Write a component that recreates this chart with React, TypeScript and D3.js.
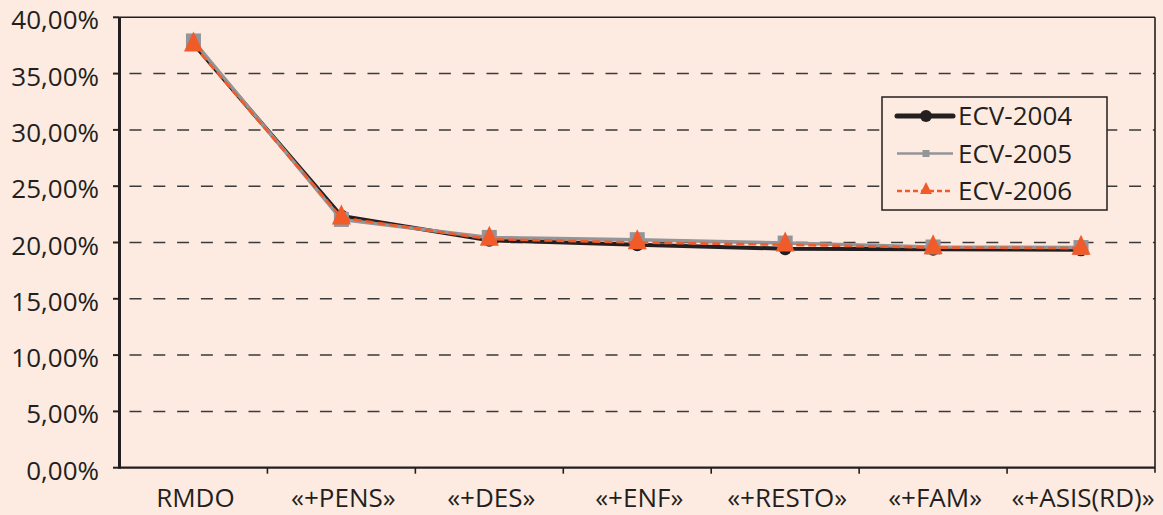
import React from "react";
import * as d3 from "d3";

const categories = ["RMDO", "«+PENS»", "«+DES»", "«+ENF»", "«+RESTO»", "«+FAM»", "«+ASIS(RD)»"];
const ecv2004 = [37.65, 22.35, 20.2, 19.8, 19.45, 19.4, 19.35];
const ecv2005 = [37.9, 22.05, 20.45, 20.25, 19.95, 19.6, 19.55];
const ecv2006 = [37.55, 22.2, 20.3, 20.0, 19.8, 19.55, 19.5];
const yTicks = [0, 5, 10, 15, 20, 25, 30, 35, 40];
const seriesNames = ["ECV-2004", "ECV-2005", "ECV-2006"];

const W = 1163;
const H = 515;
const left = 119.5;
const right = 1155;
const top = 17.3;
const bottom = 467.7;
const BG = "#fdebe1";
const FONT = "'Open Sans', sans-serif";
const BLACK = "#231f20";
const GREY = "#939598";
const ORANGE = "#f15a29";

const fmt = (v: number) => v.toFixed(2).replace(".", ",") + "%";

function triPath(cx: number, cy: number, w: number, h: number) {
  // centroid-centred triangle
  return `M${cx},${cy - (2 * h) / 3}L${cx + w / 2},${cy + h / 3}L${cx - w / 2},${cy + h / 3}Z`;
}

export default function App() {
  const x = d3.scaleBand<string>().domain(categories).range([left, right]);
  const y = d3.scaleLinear().domain([0, 40]).range([bottom, top]);
  const cx = (c: string) => (x(c) as number) + x.bandwidth() / 2;

  const line = d3
    .line<number>()
    .x((_, i) => cx(categories[i]))
    .y((d) => y(d));

  const legendX = 882;
  const legendY = 97;
  const rowY = [116, 153.5, 191];

  return (
    <svg
      width={W}
      height={H}
      style={{ position: "absolute", left: 0, top: 0, background: BG }}
      fontFamily={FONT}
    >
      <rect x={0} y={0} width={W} height={H} fill={BG} />
      {/* gridlines */}
      {yTicks
        .filter((t) => t > 0 && t < 40)
        .map((t) => (
          <line
            key={t}
            x1={left}
            x2={right}
            y1={y(t)}
            y2={y(t)}
            stroke="#3a3a3a"
            strokeWidth={1.5}
            strokeDasharray="12 11.8"
            strokeDashoffset={-10}
          />
        ))}
      {/* top & right border */}
      <line x1={left} x2={right} y1={top} y2={top} stroke={BLACK} strokeWidth={1.6} />
      <line x1={right} x2={right} y1={top} y2={bottom + 5} stroke={BLACK} strokeWidth={1.6} />
      {/* y axis */}
      <line x1={left} x2={left} y1={top} y2={bottom + 1} stroke={BLACK} strokeWidth={3} />
      {yTicks.map((t) => (
        <g key={t}>
          <line x1={113} x2={left} y1={y(t)} y2={y(t)} stroke={BLACK} strokeWidth={2} />
          <text
            x={99}
            y={y(t) + 2}
            textAnchor="end"
            dominantBaseline="central"
            fontSize={26}
            fill={BLACK}
          >
            {fmt(t)}
          </text>
        </g>
      ))}
      {/* x axis */}
      <line x1={left} x2={right} y1={bottom} y2={bottom} stroke={BLACK} strokeWidth={2.2} />
      {categories.map((c, i) => (
        <g key={c}>
          {i > 0 && (
            <line
              x1={x(c) as number}
              x2={x(c) as number}
              y1={bottom}
              y2={bottom + 6}
              stroke={BLACK}
              strokeWidth={1.6}
            />
          )}
          <text x={cx(c) + 2} y={507} textAnchor="middle" fontSize={26} fill={BLACK}>
            {c}
          </text>
        </g>
      ))}
      {/* series 2004 */}
      <path d={line(ecv2004) || ""} fill="none" stroke={BLACK} strokeWidth={4} strokeLinejoin="round" />
      {ecv2004.map((v, i) => (
        <circle key={"a" + i} cx={cx(categories[i])} cy={y(v)} r={6.5} fill={BLACK} />
      ))}
      {/* series 2005 */}
      <path d={line(ecv2005) || ""} fill="none" stroke={GREY} strokeWidth={3.5} strokeLinejoin="round" />
      {ecv2005.map((v, i) => (
        <rect
          key={"b" + i}
          x={cx(categories[i]) - 7.5}
          y={y(v) - 7.5}
          width={15}
          height={15}
          fill={GREY}
        />
      ))}
      {/* series 2006 */}
      <path
        d={line(ecv2006) || ""}
        fill="none"
        stroke={ORANGE}
        strokeWidth={2.6}
        strokeDasharray="8 4"
      />
      {ecv2006.map((v, i) => (
        <path key={"c" + i} d={triPath(cx(categories[i]), y(v), 19, 20)} fill={ORANGE} />
      ))}
      {/* legend */}
      <rect
        x={legendX}
        y={legendY}
        width={225}
        height={113}
        fill={BG}
        stroke={BLACK}
        strokeWidth={1.5}
      />
      <line x1={897} x2={953} y1={rowY[0]} y2={rowY[0]} stroke={BLACK} strokeWidth={5} strokeLinecap="round" />
      <circle cx={926} cy={rowY[0]} r={6} fill={BLACK} />
      <line x1={897} x2={953} y1={rowY[1]} y2={rowY[1]} stroke={GREY} strokeWidth={2.5} />
      <rect x={922.5} y={rowY[1] - 3.5} width={7} height={7} fill={GREY} />
      <line
        x1={897}
        x2={953}
        y1={rowY[2]}
        y2={rowY[2]}
        stroke={ORANGE}
        strokeWidth={2.5}
        strokeDasharray="5 3"
      />
      <path d={triPath(926, rowY[2] - 1, 12, 12)} fill={ORANGE} />
      {seriesNames.map((s, i) => (
        <text
          key={s}
          x={958}
          y={rowY[i] - 1}
          dominantBaseline="central"
          fontSize={26}
          fill={BLACK}
        >
          {s}
        </text>
      ))}
    </svg>
  );
}
